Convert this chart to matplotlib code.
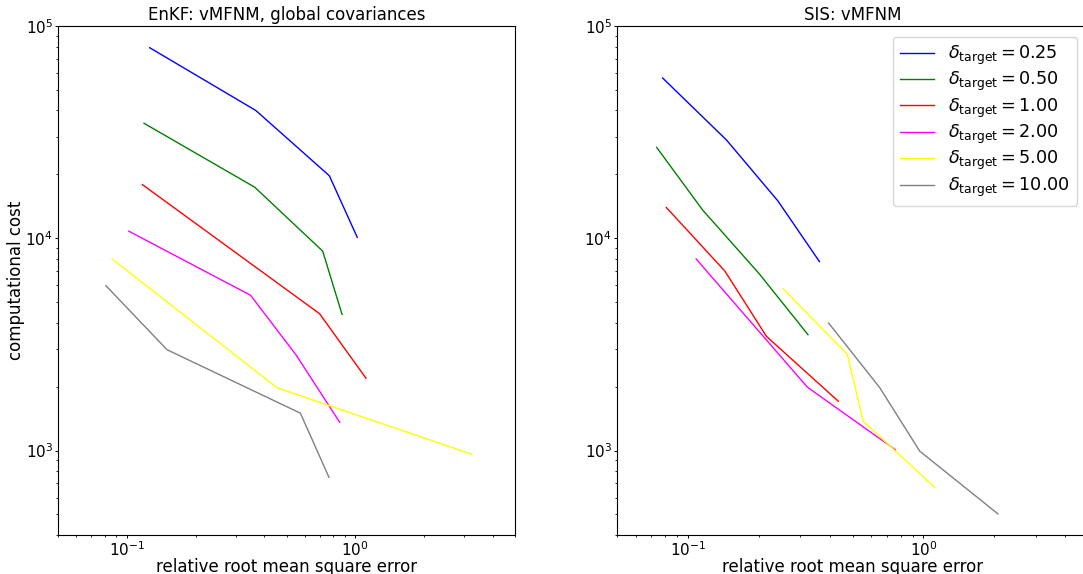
import numpy as np
import matplotlib
matplotlib.use("Agg")
import matplotlib.pyplot as plt

# delta_target levels and their line colours
targets = [0.25, 0.50, 1.00, 2.00, 5.00, 10.00]
colors = ["blue", "green", "red", "magenta", "yellow", "gray"]

# EnKF with vMFNM, global covariances: (rel. RMSE, cost) per target
enkf_err = [
    [0.126, 0.367, 0.77, 1.02],
    [0.119, 0.363, 0.72, 0.875],
    [0.117, 0.698, 1.114],
    [0.102, 0.348, 0.552, 0.854],
    [0.0862, 0.455, 3.23],
    [0.081, 0.150, 0.575, 0.767],
]
enkf_cost = [
    [79000, 40000, 19700, 10100],
    [34800, 17400, 8700, 4380],
    [17900, 4410, 2190],
    [10800, 5390, 2810, 1360],
    [7990, 1975, 961],
    [5980, 2985, 1500, 748],
]

# SIS with vMFNM
sis_err = [
    [0.0781, 0.146, 0.241, 0.362],
    [0.0737, 0.1154, 0.2005, 0.3235],
    [0.081, 0.1435, 0.2156, 0.435],
    [0.1084, 0.3215, 0.761],
    [0.2535, 0.475, 0.555, 1.116],
    [0.396, 0.653, 0.965, 2.073],
]
sis_cost = [
    [56900, 29000, 15000, 7760],
    [26800, 13600, 6820, 3515],
    [13960, 7010, 3450, 1708],
    [7990, 1989, 1008],
    [5790, 2838, 1375, 671],
    [3985, 1976, 993, 503],
]

W, H = 1083, 574
fig = plt.figure(figsize=(W / 100, H / 100), dpi=100)
ax1 = fig.add_axes([58 / W, 1 - 535 / H, (515 - 58) / W, (535 - 26) / H])
ax2 = fig.add_axes([617 / W, 1 - 535 / H, (1088 - 617) / W, (535 - 26) / H])

for ax, errs, costs, title in [(ax1, enkf_err, enkf_cost, "EnKF: vMFNM, global covariances"),
                               (ax2, sis_err, sis_cost, "SIS: vMFNM")]:
    for e, c, t, col in zip(errs, costs, targets, colors):
        ax.plot(e, c, color=col, lw=1.0,
                label=r"$\delta_{\mathrm{target}} = %.2f$" % t)
    ax.set_xscale("log")
    ax.set_yscale("log")
    ax.set_xlim(0.05, 5)
    ax.set_ylim(400, 1e5)
    ax.set_title(title, fontsize=12, pad=4)
    ax.set_xlabel("relative root mean square error", fontsize=12)
    ax.xaxis.set_label_coords(0.5, -0.045)
    ax.tick_params(which="major", labelsize=11, length=2.5, width=0.7, pad=1)
    ax.tick_params(which="minor", length=1.5, width=0.6)

ax1.set_ylabel("computational cost", fontsize=12, labelpad=0)
ax2.legend(loc="upper right", fontsize=12.7, handlelength=1.95,
           labelspacing=0.18, borderpad=0.4, handletextpad=0.8,
           borderaxespad=0.6)

fig.savefig("out.png", dpi=100)
